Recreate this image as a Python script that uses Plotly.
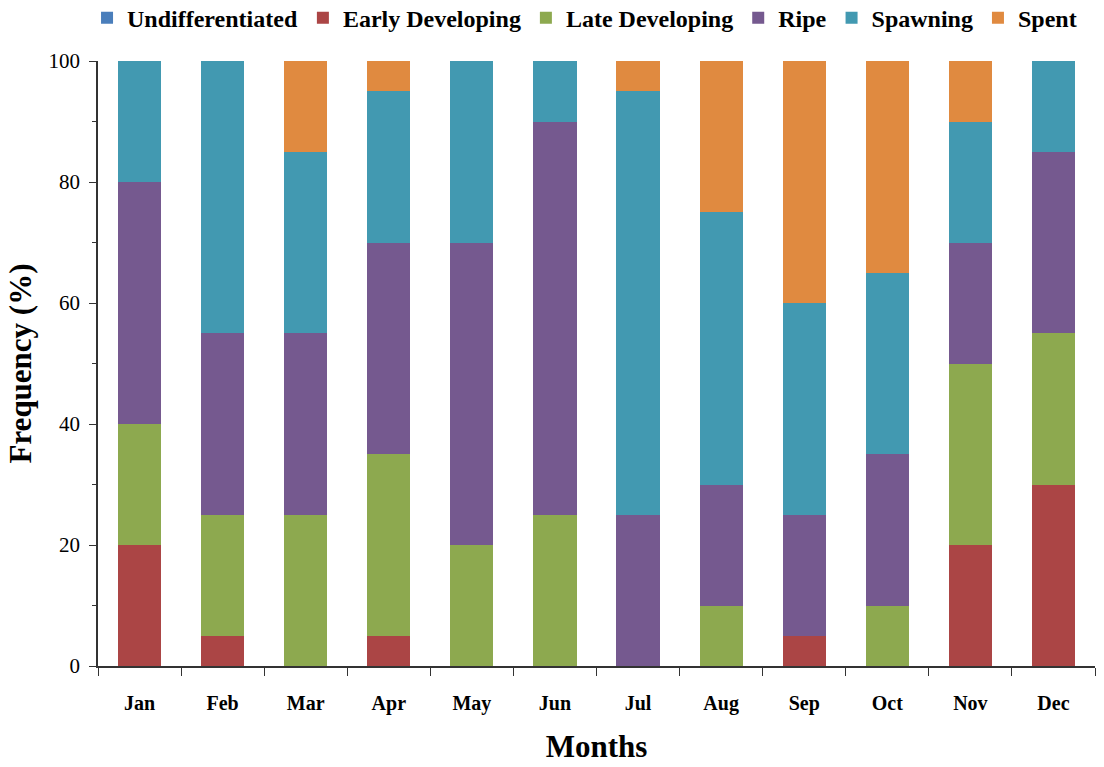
import plotly.graph_objects as go

months = ["Jan", "Feb", "Mar", "Apr", "May", "Jun", "Jul", "Aug", "Sep", "Oct", "Nov", "Dec"]

undifferentiated = [0, 0, 0, 0, 0, 0, 0, 0, 0, 0, 0, 0]
early_developing = [20, 5, 0, 5, 0, 0, 0, 0, 5, 0, 20, 30]
late_developing = [20, 20, 25, 30, 20, 25, 0, 10, 0, 10, 30, 25]
ripe = [40, 30, 30, 35, 50, 65, 25, 20, 20, 25, 20, 30]
spawning = [20, 45, 30, 25, 30, 10, 70, 45, 35, 30, 20, 15]
spent = [0, 0, 15, 5, 0, 0, 5, 25, 40, 35, 10, 0]

series = [
    ("Undifferentiated", undifferentiated, "#4A7EBB"),
    ("Early Developing", early_developing, "#AB4545"),
    ("Late Developing", late_developing, "#8DA94F"),
    ("Ripe", ripe, "#75598F"),
    ("Spawning", spawning, "#4299B1"),
    ("Spent", spent, "#E08A40"),
]

FONT = "Liberation Serif, Times New Roman, serif"

fig = go.Figure()
for name, vals, color in series:
    fig.add_trace(go.Bar(
        x=months, y=vals, name=name,
        marker=dict(color=color, line=dict(width=0)),
    ))

fig.update_layout(
    barmode="stack",
    bargap=0.48,
    width=1104, height=767,
    margin=dict(l=98, r=9, t=61, b=101, autoexpand=False),
    paper_bgcolor="white",
    plot_bgcolor="white",
    font=dict(family=FONT, color="black"),
    legend=dict(
        orientation="h", x=0.488, xanchor="center", y=1.071, yanchor="middle",
        font=dict(family=FONT, size=24, color="black", weight="bold"),
        itemwidth=30, traceorder="normal", tracegroupgap=0,
    ),
    showlegend=True,
)

fig.update_xaxes(
    type="category", automargin=False,
    showline=True, linecolor="#333333", linewidth=1.5,
    ticks="outside", tickson="boundaries", ticklen=8, tickcolor="#333333",
    ticklabelstandoff=18,
    tickfont=dict(family=FONT, size=20, color="black", weight="bold"),
    title=dict(text="Months", font=dict(family=FONT, size=31, color="black", weight="bold"), standoff=22),
    showgrid=False,
)
fig.update_yaxes(
    range=[0, 100], dtick=20, automargin=False,
    showline=True, linecolor="#333333", linewidth=1.5,
    ticks="outside", ticklen=7, tickcolor="#333333",
    minor=dict(dtick=10, ticks="outside", ticklen=4, tickcolor="#333333"),
    ticklabelstandoff=5,
    tickfont=dict(family=FONT, size=21, color="black"),
    title=dict(text="Frequency (%)", font=dict(family=FONT, size=31, color="black", weight="bold"), standoff=8),
    showgrid=False, zeroline=False,
)

fig.write_html("out.html")
